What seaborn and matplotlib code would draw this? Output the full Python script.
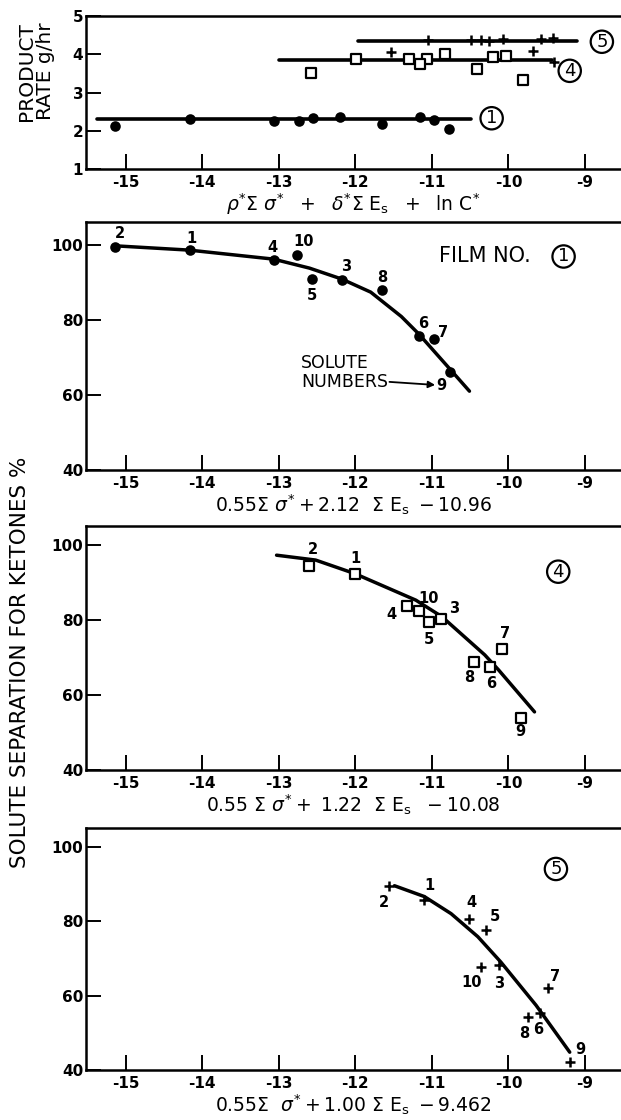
import matplotlib
matplotlib.use("Agg")
import matplotlib.pyplot as plt
import seaborn as sns

# every per-solute array below is ordered by solute number 1..10
solutes = [1, 2, 3, 4, 5, 6, 7, 8, 9, 10]

# film 1 (filled circles)
film1_x = [-14.16, -15.14, -12.18, -13.07, -12.57, -11.17, -10.97, -11.65, -10.77, -12.76]
film1_sep = [98.5, 99.4, 90.7, 96.0, 90.9, 75.7, 74.8, 87.9, 66.1, 97.2]
film1_rate_x = [-14.16, -15.14, -12.20, -13.06, -12.56, -11.16, -10.97, -11.65, -10.78, -12.74]
film1_rate = [2.31, 2.12, 2.37, 2.26, 2.33, 2.37, 2.28, 2.19, 2.06, 2.25]
film1_curve_x = [-15.10, -14.17, -13.07, -12.60, -12.18, -11.80, -11.40, -11.17, -10.77, -10.51]
film1_curve_y = [99.7, 98.6, 96.2, 93.8, 90.9, 87.4, 80.9, 76.2, 67.0, 61.0]
film1_rate_line_x = [-15.38, -10.49]
film1_rate_line_y = [2.32, 2.32]

# film 4 (open squares)
film4_x = [-12.01, -12.60, -10.88, -11.33, -11.04, -10.24, -10.09, -10.45, -9.84, -11.17]
film4_sep = [92.2, 94.5, 80.4, 83.8, 79.4, 67.6, 72.4, 68.9, 53.8, 82.4]
film4_rate_x = [-11.99, -12.58, -10.83, -11.30, -11.06, -10.20, -10.03, -10.41, -9.81, -11.15]
film4_rate = [3.89, 3.52, 4.01, 3.87, 3.87, 3.92, 3.96, 3.63, 3.33, 3.76]
film4_curve_x = [-13.03, -12.52, -12.01, -11.21, -10.87, -10.31, -10.13, -9.66]
film4_curve_y = [97.3, 96.0, 92.4, 85.3, 80.9, 70.7, 66.7, 55.5]
film4_rate_line_x = [-13.00, -9.43]
film4_rate_line_y = [3.84, 3.84]

# film 5 (crosses)
film5_x = [-11.10, -11.56, -10.12, -10.52, -10.30, -9.59, -9.48, -9.74, -9.20, -10.36]
film5_sep = [85.7, 89.3, 68.1, 80.6, 77.7, 55.4, 62.1, 54.2, 42.2, 67.8]
film5_rate_x = [-11.05, -11.53, -10.07, -10.49, -10.26, -9.57, -9.42, -9.68, -9.40, -10.36]
film5_rate = [4.37, 4.07, 4.40, 4.37, 4.35, 4.40, 4.43, 4.10, 3.81, 4.37]
film5_curve_x = [-11.49, -11.10, -10.75, -10.40, -10.10, -9.64, -9.20]
film5_curve_y = [89.5, 86.6, 82.0, 75.8, 69.0, 57.4, 44.8]
film5_rate_line_x = [-11.96, -9.10]
film5_rate_line_y = [4.34, 4.34]

x_ticks = [-15, -14, -13, -12, -11, -10, -9]
rate_ticks = [1, 2, 3, 4, 5]
sep_ticks = [40, 60, 80, 100]

rate_xlabel = (r"$\rho^{*}\Sigma\ \sigma^{*}\ \ +\ \ \delta^{*}\Sigma\ \mathrm{E}_{\mathrm{s}}"
               r"\ \ +\ \ \mathrm{ln}\ \mathrm{C}^{*}$")
film_xlabels = [
    r"$0.55\Sigma\ \sigma^{*}+2.12\ \ \Sigma\ \mathrm{E}_{\mathrm{s}}\ -10.96$",
    r"$0.55\ \Sigma\ \sigma^{*}+\ 1.22\ \ \Sigma\ \mathrm{E}_{\mathrm{s}}\ \ -10.08$",
    r"$0.55\Sigma\ \ \sigma^{*}+1.00\ \Sigma\ \mathrm{E}_{\mathrm{s}}\ -9.462$",
]

# label offsets (pixels) for solute numbers, per film, in solute order
film1_offsets = [(1, 12), (5, 14), (4, 13), (-1, 12), (0, -16), (4, 13), (9, 7), (0, 13), (-8, -13), (6, 14)]
film4_offsets = [(1, 16), (3, 16), (13, 10), (-15, -9), (0, -17), (1, -17), (3, 15), (-5, -16), (0, -13), (10, 13)]
film5_offsets = [(5, 14), (-5, -16), (0, -18), (3, 16), (9, 13), (-2, -17), (7, 11), (-4, -16), (11, 12), (-9, -16)]

sns.set_theme(style="ticks")
plt.rcParams["font.family"] = ["DejaVu Sans"]
plt.rcParams["mathtext.fontset"] = "dejavusans"
plt.rcParams["axes.unicode_minus"] = False

fig = plt.figure(figsize=(6.21, 11.2), dpi=100)
fig.patch.set_facecolor("white")

LEFT = 86 / 621
WIDTH = 1 - LEFT
ax_rate = fig.add_axes([LEFT, 0.849, WIDTH, 0.1366])
ax_f1 = fig.add_axes([LEFT, 0.5804, WIDTH, 0.2214])
ax_f4 = fig.add_axes([LEFT, 0.3125, WIDTH, 0.2179])
ax_f5 = fig.add_axes([LEFT, 0.0446, WIDTH, 0.2161])


def style_axes(ax, ylim, yticks, xlabel):
    ax.set_xlim(-15.52, -8.53)
    ax.set_ylim(*ylim)
    ax.set_xticks(x_ticks)
    ax.set_yticks(yticks)
    ax.set_facecolor("white")
    ax.tick_params(axis="both", direction="in", length=11, width=1.4,
                   color="black", labelsize=11, labelcolor="black")
    ax.tick_params(axis="x", pad=4)
    ax.tick_params(axis="y", pad=2)
    for lab in ax.get_xticklabels() + ax.get_yticklabels():
        lab.set_fontweight("bold")
    for side in ["left", "top", "bottom"]:
        ax.spines[side].set_linewidth(1.8)
        ax.spines[side].set_color("black")
    ax.spines["right"].set_visible(False)
    ax.set_xlabel(xlabel, fontsize=13.5, labelpad=1, color="black")
    ax.set_ylabel("")


def circled(ax, x, y, text, size=12):
    ax.text(x, y, text, fontsize=size, ha="center", va="center", color="black", zorder=5,
            bbox=dict(boxstyle="circle,pad=0.12", fc="white", ec="black", lw=1.6))


def draw_points(ax, x, y, marker):
    if marker == "o":
        sns.scatterplot(x=x, y=y, ax=ax, marker="o", s=58, color="black",
                        edgecolor="black", linewidth=0, zorder=3)
    elif marker == "s":
        sns.scatterplot(x=x, y=y, ax=ax, marker="s", s=42, color="white",
                        edgecolor="black", linewidth=1.6, zorder=3)
    else:
        sns.scatterplot(x=x, y=y, ax=ax, marker="+", s=60, color="black",
                        linewidth=1.8, zorder=3)


# --- product rate panel ---
for lx, ly in [(film1_rate_line_x, film1_rate_line_y),
               (film4_rate_line_x, film4_rate_line_y),
               (film5_rate_line_x, film5_rate_line_y)]:
    sns.lineplot(x=lx, y=ly, ax=ax_rate, color="black", lw=2.6, sort=False, estimator=None)
draw_points(ax_rate, film1_rate_x, film1_rate, "o")
draw_points(ax_rate, film4_rate_x, film4_rate, "s")
draw_points(ax_rate, film5_rate_x, film5_rate, "+")
style_axes(ax_rate, (1, 5), rate_ticks, rate_xlabel)
circled(ax_rate, -10.22, 2.33, "1", size=13)
circled(ax_rate, -9.20, 3.57, "4", size=13)
circled(ax_rate, -8.78, 4.33, "5", size=13)

# --- separation panels ---
panels = [
    (ax_f1, film1_x, film1_sep, film1_curve_x, film1_curve_y, film1_offsets, "o", (40, 106.1)),
    (ax_f4, film4_x, film4_sep, film4_curve_x, film4_curve_y, film4_offsets, "s", (40, 105.1)),
    (ax_f5, film5_x, film5_sep, film5_curve_x, film5_curve_y, film5_offsets, "+", (40, 105.0)),
]
labels = {}
for i, (ax, xs, ys, cx, cy, offs, marker, ylim) in enumerate(panels):
    sns.lineplot(x=cx, y=cy, ax=ax, color="black", lw=2.5, sort=False, estimator=None)
    draw_points(ax, xs, ys, marker)
    style_axes(ax, ylim, sep_ticks, film_xlabels[i])
    for n, x, y, off in zip(solutes, xs, ys, offs):
        labels[(i, n)] = ax.annotate(str(n), (x, y), xytext=off, textcoords="offset pixels",
                                     ha="center", va="center", fontsize=10.5, color="black",
                                     fontweight="bold")

ax_f1.text(-10.91, 96.9, "FILM NO.", fontsize=15, ha="left", va="center", color="black")
circled(ax_f1, -9.28, 96.9, "1", size=13)
circled(ax_f4, -9.35, 92.9, "4", size=13)
circled(ax_f5, -9.38, 94.0, "5", size=13)

ax_f1.text(-12.71, 68.4, "SOLUTE", fontsize=12.5, ha="left", va="center", color="black")
numbers_txt = ax_f1.text(-12.71, 63.5, "NUMBERS", fontsize=12.5, ha="left", va="center",
                         color="black")
ax_f1.annotate("", xy=(0.0, 0.5), xycoords=labels[(0, 9)], xytext=(1.0, 0.5), textcoords=numbers_txt,
               arrowprops=dict(arrowstyle="-|>", color="black", lw=1.3, shrinkA=1, shrinkB=1,
                               mutation_scale=10))

fig.text(0.058, 0.936, "PRODUCT\nRATE g/hr", rotation=90, ha="center", va="center",
         fontsize=14.5, color="black", linespacing=1.0)
fig.text(0.032, 0.409, "SOLUTE SEPARATION FOR KETONES %", rotation=90, ha="center", va="center",
         fontsize=15.5, color="black")

fig.savefig("out.png", dpi=100, facecolor="white")
